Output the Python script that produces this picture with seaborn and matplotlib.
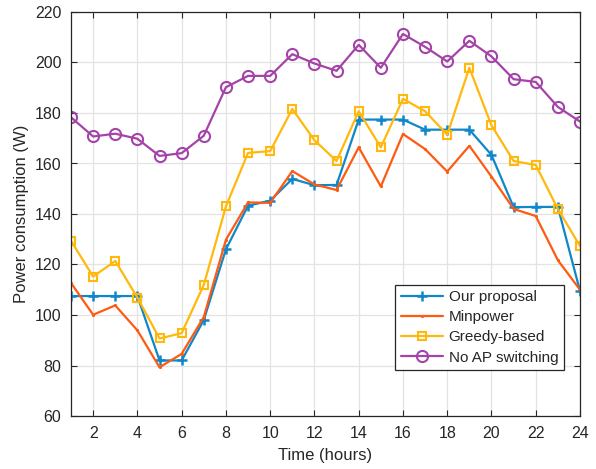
import numpy as np
import pandas as pd
import matplotlib
matplotlib.use("Agg")
import matplotlib.pyplot as plt
import seaborn as sns

hours = list(range(1, 25))
our_proposal = [107.5, 107.5, 107.5, 107.5, 82, 82, 98, 126, 143.3, 145.3, 153.9, 151.4,
                151.5, 177.4, 177.4, 177.4, 173.4, 173.4, 173.4, 163.4, 142.7, 142.8, 142.8, 109.5]
minpower = [112.7, 100.1, 103.8, 93.9, 79.3, 84.6, 99.2, 129.8, 144.6, 144.4, 157, 151.7,
            149.5, 166.4, 150.9, 171.7, 165.7, 156.8, 167, 154.8, 142, 139.2, 121.7, 110]
greedy = [129.4, 115.2, 121.4, 106.9, 90.7, 92.8, 111.9, 143, 164.2, 164.9, 181.6, 169.2,
          161, 180.7, 166.4, 185.6, 180.7, 171.4, 197.9, 175.1, 161, 159.4, 142, 127.3]
no_ap = [178.3, 170.7, 171.8, 169.8, 163, 164.1, 171, 190.2, 194.7, 194.7, 203.3, 199.6,
         196.7, 207, 197.9, 211.3, 206.2, 200.4, 208.6, 202.4, 193.4, 192.3, 182.4, 176.6]

series_names = ["Our proposal", "Minpower", "Greedy-based", "No AP switching"]
series_values = [our_proposal, minpower, greedy, no_ap]
colors = ["#0f87c8", "#ff5a12", "#ffb80c", "#a444a8"]
markers = ["+", ".", "s", "o"]
msizes = [7.5, 2.5, 5.5, 8]
mews = [1.8, 1.0, 1.5, 1.5]

sns.set_style("white")
plt.rcParams['font.family'] = ['Liberation Sans', 'DejaVu Sans']

fig = plt.figure(figsize=(5.96, 4.69), dpi=100)
ax = fig.add_axes([71/596, 1 - 416/469, (580-71)/596, (416-12)/469])

for name, vals, c, m, ms, mew in zip(series_names, series_values, colors, markers, msizes, mews):
    df = pd.DataFrame({"Time": hours, "Power": vals})
    mfc = "none" if m in ("s", "o") else c
    sns.lineplot(data=df, x="Time", y="Power", ax=ax, color=c, lw=1.6, marker=m,
                 markersize=ms, markeredgewidth=mew, markerfacecolor=mfc,
                 markeredgecolor=c, label=name)

ax.set_xlim(1, 24)
ax.set_ylim(60, 220)
ax.set_xticks(range(2, 25, 2))
ax.set_yticks(range(60, 221, 20))
ax.grid(True, color="#e3e3e3", lw=0.9)
ax.set_axisbelow(True)
for s in ax.spines.values():
    s.set_color("#262626")
    s.set_linewidth(0.9)
    s.set_visible(True)
ax.tick_params(direction="in", length=4, width=0.8, colors="#262626", labelsize=11.5,
               top=True, right=True, bottom=True, left=True, pad=7)
ax.set_xlabel("Time (hours)", fontsize=12, color="#262626", labelpad=5)
ax.set_ylabel("Power consumption (W)", fontsize=12, color="#262626")

leg = ax.legend(loc="lower left", bbox_to_anchor=(0.637, 0.114), fontsize=11,
                frameon=True, fancybox=False, framealpha=1, edgecolor="#262626",
                borderpad=0.35, labelspacing=0.4, handlelength=2.8, handletextpad=0.35,
                borderaxespad=0)
leg.get_frame().set_linewidth(0.9)

fig.savefig("out.png", dpi=100)
